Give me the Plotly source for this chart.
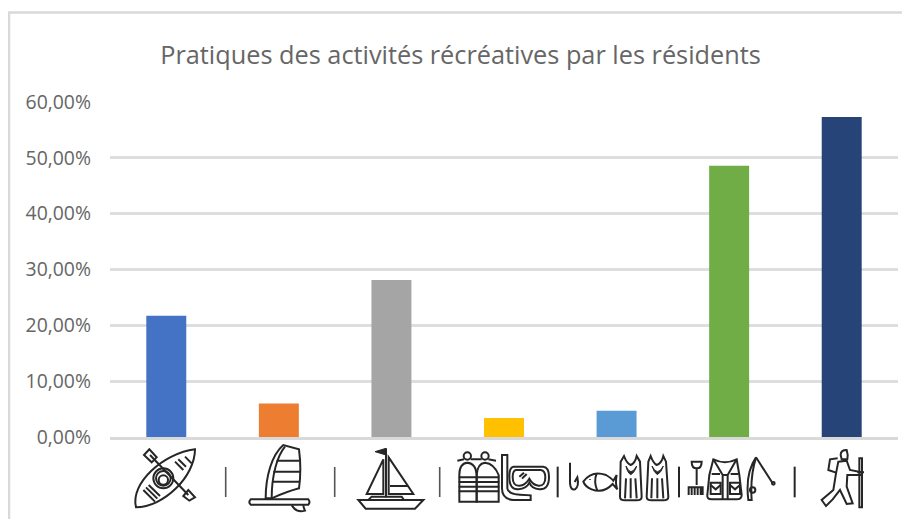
import re
import plotly.graph_objects as go

# The page body has an 8px margin, so the figure is 8px smaller than the window.
W, H = 902, 511
categories = ["Kayak", "Planche à voile", "Voile", "Plongée", "Pêche", "Pêche à pied", "Randonnée"]
values = [21.7, 6.0, 28.1, 3.4, 4.7, 48.6, 57.3]
colors = ["#4472C4", "#ED7D31", "#A5A5A5", "#FFC000", "#5B9BD5", "#70AD47", "#264478"]
y_ticks = [0, 10, 20, 30, 40, 50, 60]
y_labels = ["0,00%", "10,00%", "20,00%", "30,00%", "40,00%", "50,00%", "60,00%"]
title = "Pratiques des activités récréatives par les résidents"


def ell(cx, cy, rx, ry):
    return (f"M{cx-rx},{cy} C{cx-rx},{cy-ry*.55} {cx-rx*.55},{cy-ry} {cx},{cy-ry} "
            f"C{cx+rx*.55},{cy-ry} {cx+rx},{cy-ry*.55} {cx+rx},{cy} "
            f"C{cx+rx},{cy+ry*.55} {cx+rx*.55},{cy+ry} {cx},{cy+ry} "
            f"C{cx-rx*.55},{cy+ry} {cx-rx},{cy+ry*.55} {cx-rx},{cy} Z ")


# Pictograms, in the 3x crop space of the two lower crops
ICONS_LEFT = [
    # kayak
    "M285,88 C190,100 90,190 108,262 C190,262 285,170 285,88 Z",
    "M150,105 L265,225 M132,105 L148,88 L170,112 L155,127 Z M250,228 L265,210 L285,232 L268,242 Z",
    ell(190, 175, 30, 30), ell(190, 175, 22, 22), ell(190, 180, 14, 14),
    "M225,125 L250,150 M235,118 L258,140 M255,110 L275,130",
    "M130,210 L165,245 M138,202 L172,236 M146,195 L180,228",
    # windsurf
    "M452,238 L625,238 Q632,246 625,254 L452,254 Q444,246 452,238 Z",
    "M575,256 Q590,280 615,272 Q610,262 610,256",
    "M497,235 C497,170 515,105 550,75 L597,88 Q605,150 597,205 Q560,215 515,235 Z",
    "M515,235 C515,170 530,110 555,80",
    "M530,122 L598,122 M520,155 L602,155 M517,185 L600,185",
    # sailboat
    "M858,85 L858,232",
    "M850,118 L800,222 L850,222 Z M866,112 L940,222 L866,222 Z M870,198 L922,198",
    "M775,240 L970,240 L945,266 L797,266 Z M805,240 L815,230 L905,230 L912,240",
    # tanks
    "M1078,245 L1078,165 Q1078,130 1102,128 Q1128,130 1130,165 L1130,245 Z",
    "M1130,245 L1130,165 Q1132,130 1155,128 Q1182,130 1196,165 L1196,245 Z",
    ell(1102, 108, 11, 11), ell(1155, 108, 11, 11),
    "M1072,122 L1092,118 M1112,118 L1145,118 M1165,118 L1188,122",
    "M1076,172 L1198,172 M1076,186 L1198,186 M1076,200 L1198,200 M1076,214 L1198,214",
]
FILLED_LEFT = ["M858,85 L825,95 L858,105 Z"]
ICONS_RIGHT = [
    # snorkel mask
    "M6,105 L22,105 L22,205 Q24,222 60,224 L92,226 L92,240 L40,240 Q6,238 6,205 Z",
    "M40,140 L130,140 Q147,142 147,170 Q147,210 118,208 Q95,206 88,188 Q80,206 55,208 Q28,210 28,170 Q28,142 40,140 Z",
    "M48,150 L122,150 Q136,152 136,172 Q136,198 116,197 Q98,195 88,176 Q76,196 58,197 Q38,198 38,172 Q38,152 48,150 Z",
    "M58,170 L72,158 M66,176 L80,162",
    "M173,140 L173,232",
    # hook and fish
    "M210,128 L210,190 Q212,212 225,208 Q238,200 232,172 L224,186",
    "M250,185 Q275,150 318,165 Q335,175 340,182 L350,165 Q345,190 352,208 L338,192 Q310,222 275,208 Q255,200 250,185 Z",
    "M290,160 Q280,185 292,212 M270,178 L270,180",
    # fins
    "M362,125 L372,108 Q380,130 392,135 Q405,130 410,108 L420,125 L425,230 Q425,241 410,241 L375,241 Q360,241 360,230 Z",
    "M378,175 L375,235 M392,175 L392,235 M406,175 L410,235",
    "M445,125 L452,108 Q460,130 470,135 Q485,130 490,108 L498,125 L505,230 Q505,241 490,241 L455,241 Q440,241 440,230 Z",
    "M456,175 L454,235 M472,175 L472,235 M486,175 L490,235",
    "M537,140 L537,232",
    # clam fork
    "M575,125 L605,125 Q605,145 590,145 Q575,145 575,125 Z M590,145 L590,195",
    "M566,225 L566,202 L608,202 L608,225 M575,205 L575,225 M584,205 L584,225 M593,205 L593,225 M602,205 L602,225",
    # vest
    "M640,118 Q675,135 710,118 L718,165 L725,225 Q725,238 710,238 L635,238 Q620,238 622,225 L628,165 Z",
    "M640,118 L668,165 L683,165 L710,118 M668,165 L668,238 M683,165 L683,238",
    "M632,188 L662,188 L662,222 L632,222 Z M690,188 L720,188 L720,222 L690,222 Z",
    "M632,195 L647,208 L662,195 M690,195 L705,208 L720,195",
    "M635,162 L660,162 M692,162 L716,162",
    # fishing rod
    "M745,240 Q735,160 768,112 Q750,170 755,240 Z M768,112 L818,190",
    ell(820, 190, 4, 4), ell(758, 210, 8, 8),
    "M884,140 L884,232",
    # hiker
    "M1022,105 Q1022,90 1040,90 Q1045,105 1042,118 L1025,118 Z",
    "M1015,125 L1040,122 L1050,150 L1085,157 L1085,165 L1042,165 L1040,200 L1058,250 L1040,252 L1020,210 L998,238 L978,258 L965,240 L1000,210 L1008,160 Z",
    "M1013,115 L990,118 L985,150 L1008,158",
    "M1078,115 L1086,115 L1086,262 L1078,262 Z M1072,157 L1092,157",
]
FILLED_RIGHT = [
    "M378,138 Q392,172 410,138 Q404,158 392,164 Q382,158 378,138 Z",
    "M456,138 Q472,172 490,138 Q484,158 472,164 Q462,158 456,138 Z",
]


def to_paper(path, ox):
    """Map a path written in crop coordinates to paper coordinates."""
    def pair(m):
        px = ox + float(m.group(1)) / 3
        py = 420 + float(m.group(2)) / 3
        return f"{(px - 110) / 788:.5f},{(437 - py) / 335:.5f}"
    return re.sub(r"(-?[\d.]+),(-?[\d.]+)", pair, path)


shapes = []
for ox, group, filled in ((100, ICONS_LEFT, FILLED_LEFT), (500, ICONS_RIGHT, FILLED_RIGHT)):
    for p in group:
        shapes.append(dict(type="path", xref="paper", yref="paper", path=to_paper(p, ox),
                           line=dict(color="#262626", width=2), layer="above"))
    for p in filled:
        shapes.append(dict(type="path", xref="paper", yref="paper", path=to_paper(p, ox),
                           fillcolor="#262626", line=dict(color="#262626", width=1), layer="above"))
for xp in (225.7, 334.7, 439.7):
    shapes.append(dict(type="line", xref="paper", yref="paper",
                       x0=(xp-110)/788, x1=(xp-110)/788, y0=(437-467)/335, y1=(437-497)/335,
                       line=dict(color="#555555", width=1.6)))
# chart frame (top and left edges visible in the reference)
fx = (9 - 110) / 788
fy = (437 - 12.5) / 335
shapes.append(dict(type="path", xref="paper", yref="paper",
                   path=f"M{fx:.5f},{(437-519)/335:.5f} L{fx:.5f},{fy:.5f} L{(910-110)/788:.5f},{fy:.5f}",
                   line=dict(color="#D9D9D9", width=2.5)))

fig = go.Figure(go.Bar(x=categories, y=values, marker=dict(color=colors, line=dict(width=0)),
                       width=0.355, hoverinfo="x+y"))
fig.update_layout(
    width=W, height=H, autosize=False,
    margin=dict(l=102, r=12, t=94, b=82),
    paper_bgcolor="white", plot_bgcolor="white", showlegend=False,
    font=dict(family="Open Sans", color="#666666"),
    title=dict(text=title, x=(460.5-8)/W, xanchor="center", y=1-(55-8)/H, yanchor="middle",
               font=dict(size=25.3, family="Open Sans", color="#666666")),
    shapes=shapes,
)
fig.update_xaxes(showticklabels=False, ticks="", showline=True, linecolor="#D9D9D9", linewidth=2.5, showgrid=False)
fig.update_yaxes(range=[0, 60], tickvals=y_ticks, ticktext=y_labels, tickfont=dict(size=19.4, color="#666666"),
                 showgrid=True, gridcolor="#DEDEDE", gridwidth=2.5, zeroline=False, ticks="", ticklen=0,
                 ticklabelstandoff=18)
fig.write_html("out.html")
